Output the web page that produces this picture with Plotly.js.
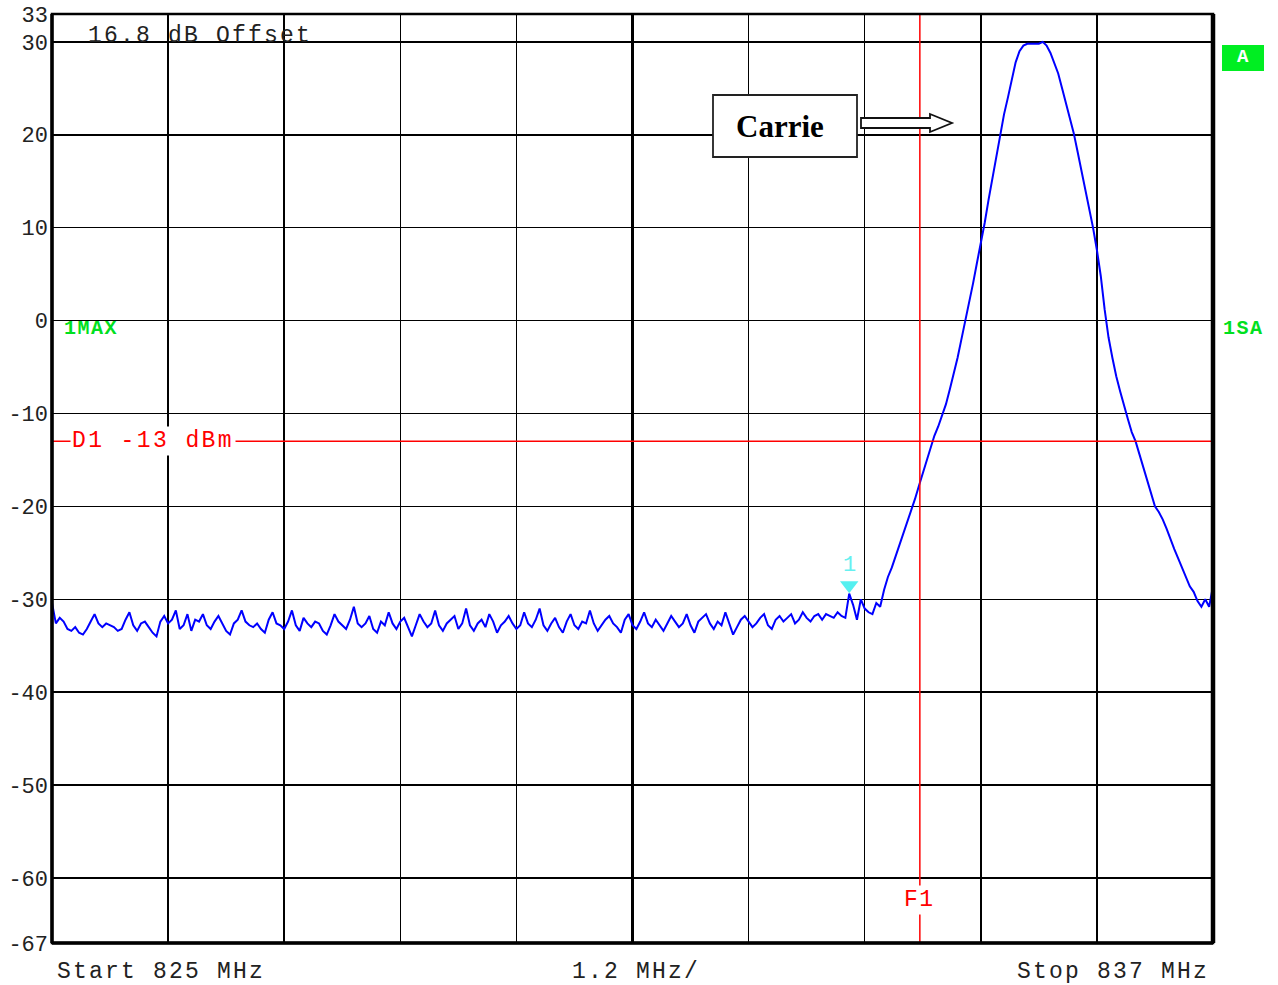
<!DOCTYPE html>
<html>
<head>
<meta charset="utf-8">
<script src="https://cdn.plot.ly/plotly-3.0.1.min.js"></script>
<style>
html,body{margin:0;padding:0;background:#fff;}
#chart{width:1278px;height:985px;}
</style>
</head>
<body>
<div id="chart"></div>
<script>
// ---------------- DATA ----------------
const startFreqMHz = 825;
const stopFreqMHz = 837;
const sweepStepMHz = 0.04;
const gridFreqsMHz = [825, 826.2, 827.4, 828.6, 829.8, 831, 832.2, 833.4, 834.6, 835.8, 837];
const yTickVals = [33, 30, 20, 10, 0, -10, -20, -30, -40, -50, -60, -67];
const yTickText = ["33", "30", "20", "10", "0", "-10", "-20", "-30", "-40", "-50", "-60", "-67"];

// noise floor, 825.00 .. 833.40 MHz
const noiseLevels = [
  -30.4, -32.6, -32.0, -32.4, -33.2, -33.4, -33.0, -33.6, -33.8, -33.2,
  -32.4, -31.6, -32.6, -33.0, -32.6, -32.8, -33.0, -33.4, -33.2, -32.2,
  -31.4, -32.8, -33.4, -32.6, -32.4, -33.0, -33.6, -34.0, -32.4, -31.8,
  -32.6, -32.2, -31.2, -33.2, -32.8, -31.6, -33.4, -32.2, -32.4, -31.6,
  -32.8, -33.2, -32.4, -31.8, -32.6, -33.4, -33.8, -32.6, -32.2, -31.2,
  -32.4, -32.8, -33.0, -32.6, -33.2, -33.6, -32.2, -31.4, -32.6, -32.8,
  -33.2, -32.4, -31.2, -32.8, -33.4, -32.0, -32.6, -33.0, -32.4, -32.6,
  -33.4, -33.8, -32.8, -31.6, -32.4, -32.8, -33.2, -32.2, -30.8, -32.6,
  -33.0, -32.6, -31.8, -33.2, -33.6, -32.4, -32.8, -31.4, -32.6, -33.2,
  -32.4, -32.0, -33.0, -34.0, -32.8, -31.6, -32.4, -33.0, -32.6, -31.2,
  -32.8, -33.4, -32.6, -32.2, -31.8, -33.2, -32.6, -31.0, -32.8, -33.4,
  -32.6, -32.2, -33.0, -31.6, -32.4, -33.6, -32.8, -32.4, -31.8, -32.6,
  -33.2, -32.8, -31.4, -32.6, -33.0, -32.2, -31.0, -32.8, -33.4, -32.6,
  -32.0, -33.0, -33.6, -32.4, -31.6, -32.8, -33.2, -32.4, -32.6, -31.2,
  -32.6, -33.4, -32.8, -32.2, -31.8, -32.6, -33.0, -33.6, -32.2, -31.6,
  -32.8, -33.2, -32.4, -31.4, -32.6, -33.0, -32.2, -32.8, -33.4, -32.6,
  -31.8, -32.4, -33.0, -32.6, -31.6, -32.8, -33.6, -32.4, -32.0, -31.6,
  -32.6, -33.2, -32.4, -32.8, -31.4, -32.6, -33.8, -33.0, -32.2, -31.8,
  -32.4, -33.0, -32.6, -32.0, -31.6, -32.8, -33.2, -32.2, -31.8, -32.4,
  -32.0, -31.6, -32.6, -32.2, -31.4, -32.0, -32.4, -31.8, -31.6, -32.2,
  -31.6, -31.8, -32.0, -31.4, -31.8, -32.0, -29.4, -30.6, -32.2, -30.0,
  -31.0
];
// carrier, 833.44 .. 837.00 MHz
const carrierLevels = [
  -31.4, -31.6, -30.4, -30.8, -29.0, -27.6, -26.6, -25.4, -24.0, -22.8,
  -21.6, -20.4, -19.2, -17.8, -16.4, -15.0, -13.6, -12.4, -11.4, -10.2,
  -9.0, -7.4, -5.8, -4.0, -2.0, 0.0, 1.8, 4.0, 6.2, 8.2,
  10.5, 13.0, 15.4, 17.8, 20.0, 22.2, 24.0, 26.0, 27.8, 29.0,
  29.6, 29.8, 29.8, 29.8, 29.8, 30.0, 29.6, 28.8, 27.8, 26.6,
  25.0, 23.4, 21.8, 20.2, 18.2, 16.2, 14.0, 12.0, 10.0, 7.6,
  4.8, 1.2, -1.8, -4.0, -6.0, -7.6, -9.2, -10.6, -12.0, -13.0,
  -14.4, -15.8, -17.2, -18.6, -20.0, -20.6, -21.4, -22.4, -23.6, -24.6,
  -25.6, -26.6, -27.8, -28.6, -29.2, -30.2, -30.8, -30.0, -30.8, -28.6
];
const displayLineDbm = -13;
const f1FreqMHz = 833.97;
const markerIndex = 206;
const offsetLabel = "16.8 dB Offset";
const carrierLabel = "Carrie";

// ---------------- BUILD ----------------
const levels = noiseLevels.concat(carrierLevels);
const freqs = levels.map((_, i) => +(startFreqMHz + i * sweepStepMHz).toFixed(2));

const L = 52, R = 1213, T = 14, B = 943;
const px = p => (p - L) / (R - L);
const py = p => (B - p) / (B - T);

const mono = '"Courier New", "Liberation Mono", monospace';
const spaced = (t, s) => `<span style="letter-spacing:${s}px">${t}</span>`;

const traces = [
  {
    x: freqs, y: levels, type: 'scatter', mode: 'lines',
    line: {color: '#0000ff', width: 2}, hoverinfo: 'skip', showlegend: false
  },
  {
    x: [freqs[markerIndex]], y: [levels[markerIndex] + 0.9], type: 'scatter', mode: 'markers',
    marker: {symbol: 'triangle-down', size: 16, color: '#55f0f0', line: {width: 0}},
    hoverinfo: 'skip', showlegend: false
  }
];

const arrowPts = [[861,118],[930,118],[930,114],[952,123],[930,132],[930,128],[861,128]];
const arrowPath = 'M' + arrowPts.map(p => px(p[0]).toFixed(5) + ',' + py(p[1]).toFixed(5)).join(' L') + ' Z';

const shapes = [
  {type: 'line', xref: 'paper', yref: 'y', x0: 0, x1: 1, y0: displayLineDbm, y1: displayLineDbm,
   line: {color: '#ff0000', width: 1.5}},
  {type: 'line', xref: 'x', yref: 'paper', x0: f1FreqMHz, x1: f1FreqMHz, y0: 0, y1: 1,
   line: {color: '#ff0000', width: 1.5}},
  {type: 'line', xref: 'x', yref: 'paper', x0: gridFreqsMHz[5], x1: gridFreqsMHz[5], y0: 0, y1: 1,
   line: {color: '#000', width: 3}, layer: 'below'},
  {type: 'rect', xref: 'paper', yref: 'paper', x0: 0, x1: 1, y0: 0, y1: 1,
   line: {color: '#000', width: 2.5}},
  {type: 'line', xref: 'paper', yref: 'paper', x0: 1, x1: 1, y0: 0, y1: 1, line: {color: '#000', width: 4.5}},
  {type: 'line', xref: 'paper', yref: 'paper', x0: 0, x1: 1, y0: 0, y1: 0, line: {color: '#000', width: 3.5}},
  {type: 'line', xref: 'paper', yref: 'paper', x0: 0, x1: 0, y0: 0, y1: 1, line: {color: '#000', width: 3.5}},
  {type: 'rect', xref: 'paper', yref: 'paper', x0: px(713), x1: px(857), y0: py(157), y1: py(95),
   line: {color: '#222', width: 1.8}, fillcolor: '#fff'},
  {type: 'path', xref: 'paper', yref: 'paper', path: arrowPath, line: {color: '#111', width: 1.8}, fillcolor: '#fff'},
  {type: 'rect', xref: 'paper', yref: 'paper', x0: px(1222), x1: px(1264), y0: py(71), y1: py(45),
   line: {width: 0}, fillcolor: '#00ee22'}
];

const annotations = [
  {xref: 'paper', yref: 'paper', x: px(86), y: py(36), xanchor: 'left', yanchor: 'middle', showarrow: false,
   text: spaced(offsetLabel, 2.2), font: {family: mono, size: 23, color: '#222'}},
  {xref: 'paper', yref: 'y', x: px(70), y: displayLineDbm, xanchor: 'left', yanchor: 'middle', showarrow: false,
   text: spaced('D1 -13 dBm', 2.4), font: {family: mono, size: 23, color: '#ff0000'}, bgcolor: '#fff', borderpad: 1},
  {xref: 'x', yref: 'paper', x: f1FreqMHz, y: py(900), xanchor: 'center', yanchor: 'middle', showarrow: false,
   text: spaced('F1', 1.5), font: {family: mono, size: 23, color: '#ff0000'}, bgcolor: '#fff', borderpad: 1},
  {xref: 'paper', yref: 'paper', x: px(62), y: py(328), xanchor: 'left', yanchor: 'middle', showarrow: false,
   text: spaced('1MAX', 1.5), font: {family: mono, size: 20, color: '#00e020', weight: 'bold'}},
  {xref: 'paper', yref: 'paper', x: px(1221), y: py(328), xanchor: 'left', yanchor: 'middle', showarrow: false,
   text: spaced('1SA', 1.5), font: {family: mono, size: 20, color: '#00e020', weight: 'bold'}},
  {xref: 'paper', yref: 'paper', x: px(1243), y: py(57), xanchor: 'center', yanchor: 'middle', showarrow: false,
   text: 'A', font: {family: mono, size: 19, color: '#ffffff', weight: 'bold'}},
  {xref: 'paper', yref: 'paper', x: px(780), y: py(126), xanchor: 'center', yanchor: 'middle', showarrow: false,
   text: carrierLabel, font: {family: '"Liberation Serif", "Times New Roman", serif', size: 31, color: '#000', weight: 'bold'}},
  {xref: 'x', yref: 'y', x: freqs[markerIndex], y: levels[markerIndex] + 3.0, xanchor: 'center', yanchor: 'middle', showarrow: false,
   text: '1', font: {family: mono, size: 22, color: '#66f0f0'}},
  {xref: 'paper', yref: 'paper', x: px(55), y: py(972), xanchor: 'left', yanchor: 'middle', showarrow: false,
   text: spaced('Start ' + startFreqMHz + ' MHz', 2.2), font: {family: mono, size: 23, color: '#222'}},
  {xref: 'paper', yref: 'paper', x: px(570), y: py(972), xanchor: 'left', yanchor: 'middle', showarrow: false,
   text: spaced('1.2 MHz/', 2.2), font: {family: mono, size: 23, color: '#222'}},
  {xref: 'paper', yref: 'paper', x: px(1211), y: py(972), xanchor: 'right', yanchor: 'middle', showarrow: false,
   text: spaced('Stop ' + stopFreqMHz + ' MHz', 2.2), font: {family: mono, size: 23, color: '#222'}}
];

const layout = {
  width: 1278, height: 985,
  margin: {l: L, r: 1278 - R, t: T, b: 985 - B, pad: 0},
  paper_bgcolor: '#fff', plot_bgcolor: '#fff',
  showlegend: false,
  xaxis: {
    range: [startFreqMHz, stopFreqMHz], tickvals: gridFreqsMHz, showticklabels: false,
    showgrid: true, gridcolor: '#000', gridwidth: 1.5, zeroline: false, showline: false, ticks: '',
    fixedrange: true
  },
  yaxis: {
    range: [-67, 33], tickvals: yTickVals, ticktext: yTickText,
    showgrid: true, gridcolor: '#000', gridwidth: 1.5, zeroline: false, showline: false, ticks: '',
    tickfont: {family: mono, size: 22, color: '#222'}, ticklabelstandoff: 3, fixedrange: true
  },
  shapes: shapes,
  annotations: annotations
};

Plotly.newPlot('chart', traces, layout, {displayModeBar: false, staticPlot: true});
</script>
</body>
</html>
